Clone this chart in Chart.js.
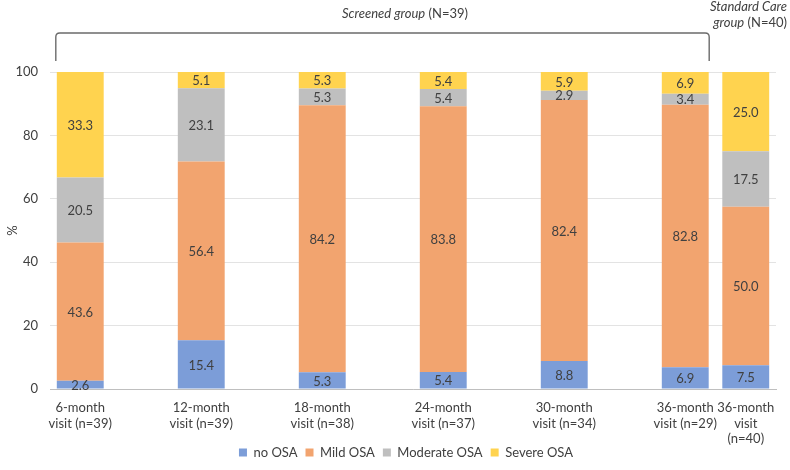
<!DOCTYPE html>
<html><head><meta charset="utf-8">
<script src="https://cdn.jsdelivr.net/npm/chart.js@4.4.1/dist/chart.umd.min.js"></script>
<style>html,body{margin:0;padding:0;background:#fff}#wrap{width:790px;height:470px;position:relative}</style>
</head><body><div id="wrap"><canvas id="c" width="790" height="470"></canvas></div>
<script>
// ---- data ----
const categories = [
  ['6-month', 'visit (n=39)'],
  ['12-month', 'visit (n=39)'],
  ['18-month', 'visit (n=38)'],
  ['24-month', 'visit (n=37)'],
  ['30-month', 'visit (n=34)'],
  ['36-month', 'visit (n=29)'],
  ['36-month', 'visit', '(n=40)']
];
const seriesNames = ['no OSA', 'Mild OSA', 'Moderate OSA', 'Severe OSA'];
const noOSA       = [2.6, 15.4, 5.3, 5.4, 8.8, 6.9, 7.5];
const mildOSA     = [43.6, 56.4, 84.2, 83.8, 82.4, 82.8, 50.0];
const moderateOSA = [20.5, 23.1, 5.3, 5.4, 2.9, 3.4, 17.5];
const severeOSA   = [33.3, 5.1, 5.3, 5.4, 5.9, 6.9, 25.0];
const yTicks = [0, 20, 40, 60, 80, 100];

// ---- layout (slot each category occupies on the axis; last bar sits closer) ----
const slots = [0, 2, 4, 6, 8, 10, 11];
const nSlots = 12;
const colors = ['#7C9DD8', '#F2A46F', '#BFBFBF', '#FFD34F'];
const FONT = 'Lato, "Open Sans", sans-serif';
const TXT = '#404040';

const labels = Array.from({length: nSlots}, () => '');
slots.forEach((s, i) => { labels[s] = categories[i]; });
function spread(arr) {
  const out = Array.from({length: nSlots}, () => null);
  slots.forEach((s, i) => { out[s] = arr[i]; });
  return out;
}
const seriesValues = [noOSA, mildOSA, moderateOSA, severeOSA];

const valueLabels = {
  id: 'valueLabels',
  afterDatasetsDraw(chart) {
    const ctx = chart.ctx;
    ctx.save();
    ctx.font = '13px ' + FONT;
    ctx.fillStyle = TXT;
    ctx.textAlign = 'center';
    ctx.textBaseline = 'middle';
    chart.data.datasets.forEach((ds, di) => {
      const meta = chart.getDatasetMeta(di);
      meta.data.forEach((el, i) => {
        const v = ds.data[i];
        if (v === null || v === undefined) return;
        ctx.fillText(v.toFixed(1), el.x, (el.y + el.base) / 2 + 1);
      });
    });
    ctx.restore();
  }
};

// nudge the legend row to the right, and let the 3-line x label draw fully
const layoutTweaks = {
  id: 'layoutTweaks',
  afterLayout(chart) {
    if (chart.legend) { chart.legend.left += 18; chart.legend.right += 18; }
    chart.scales.x.bottom = chart.height;
  }
};

const groupBracket = {
  id: 'groupBracket',
  afterDraw(chart) {
    const ctx = chart.ctx;
    const meta = chart.getDatasetMeta(0);
    const first = meta.data[slots[0]];
    const last = meta.data[slots[5]];
    const x1 = first.x - first.width / 2 - 1;
    const x2 = last.x + last.width / 2 + 0.5;
    const top = chart.chartArea.top;
    const yb = top - 11, yt = top - 39, r = 4;
    ctx.save();
    ctx.strokeStyle = '#6B6B6B';
    ctx.lineWidth = 1.4;
    ctx.beginPath();
    ctx.moveTo(x1, yb);
    ctx.lineTo(x1, yt + r);
    ctx.quadraticCurveTo(x1, yt, x1 + r, yt);
    ctx.lineTo(x2 - r, yt);
    ctx.quadraticCurveTo(x2, yt, x2, yt + r);
    ctx.lineTo(x2, yb);
    ctx.stroke();

    function mixed(parts, x, y, align) {
      let w = 0;
      parts.forEach(p => { ctx.font = (p[1] ? 'italic ' : '') + '13px ' + FONT; w += ctx.measureText(p[0]).width; });
      let cx = align === 'right' ? x - w : x - w / 2;
      ctx.textAlign = 'left';
      ctx.textBaseline = 'middle';
      ctx.fillStyle = TXT;
      parts.forEach(p => {
        ctx.font = (p[1] ? 'italic ' : '') + '13px ' + FONT;
        ctx.fillText(p[0], cx, y);
        cx += ctx.measureText(p[0]).width;
      });
    }
    mixed([['Screened group', true], [' (N=39)', false]], 405, 14, 'center');
    mixed([['Standard Care', true]], 787, 7, 'right');
    mixed([['group', true], [' (N=40)', false]], 787, 23, 'right');
    ctx.restore();
  }
};

new Chart(document.getElementById('c'), {
  type: 'bar',
  data: {
    labels: labels,
    datasets: seriesNames.map((n, i) => ({
      label: n,
      data: spread(seriesValues[i]),
      backgroundColor: colors[i],
      borderWidth: 0,
      categoryPercentage: 1,
      barPercentage: 0.775
    }))
  },
  options: {
    responsive: false,
    animation: false,
    devicePixelRatio: 1,
    layout: { padding: { top: 72, right: 14, left: 0, bottom: 1 } },
    plugins: {
      tooltip: { enabled: false },
      legend: {
        position: 'bottom',
        labels: {
          boxWidth: 8, boxHeight: 8, padding: 8,
          color: TXT, font: { family: FONT, size: 13 }
        }
      }
    },
    scales: {
      x: {
        stacked: true,
        grid: { display: false, drawTicks: false },
        border: { display: true, color: '#BFBFBF', width: 1 },
        ticks: {
          autoSkip: false, maxRotation: 0, padding: 11,
          color: TXT, font: { family: FONT, size: 13, lineHeight: 1.2 }
        },
        afterFit(scale) { scale.height = 49; }
      },
      y: {
        stacked: true,
        min: 0, max: 100,
        afterBuildTicks(scale) { scale.ticks = yTicks.map(v => ({ value: v })); },
        grid: { color: '#E3E3E3', drawTicks: false },
        border: { display: false },
        ticks: { padding: 12, color: TXT, font: { family: FONT, size: 13 } },
        title: { display: true, text: '%', color: TXT, font: { family: FONT, size: 13 }, padding: { top: 5, bottom: 0 } },
        afterFit(scale) { scale.width = 50; }
      }
    }
  },
  plugins: [valueLabels, layoutTweaks, groupBracket]
});
</script>
</body></html>
